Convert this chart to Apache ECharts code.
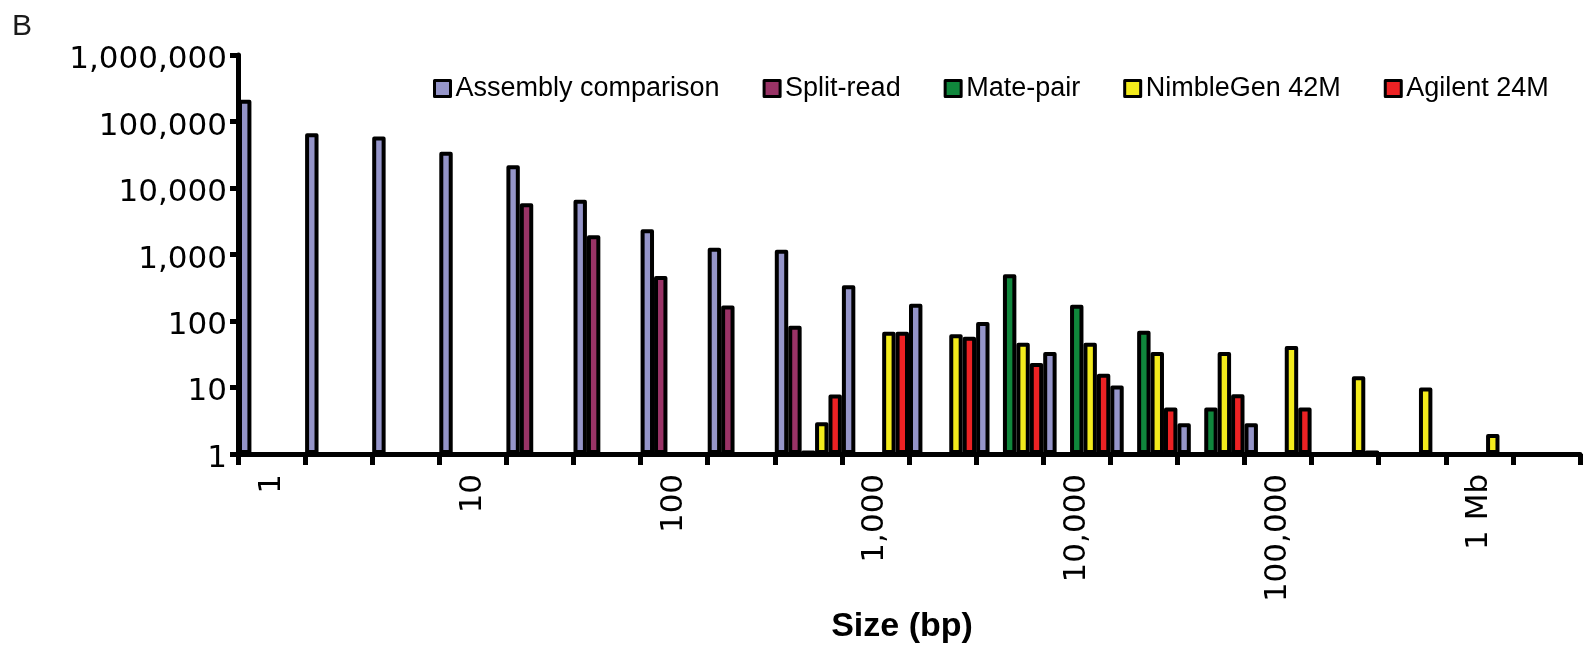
<!DOCTYPE html>
<html>
<head>
<meta charset="utf-8">
<script src="https://cdn.jsdelivr.net/npm/echarts@6/dist/echarts.min.js"></script>
<style>
html,body{margin:0;padding:0;background:#fff;}
#chart{width:1586px;height:649px;}
</style>
</head>
<body>
<div id="chart"></div>
<script>
// Size bins (bp), three per decade
const sizeBins = ['1','2','5','10','20','50','100','200','500','1,000','2,000','5,000','10,000','20,000','50,000','100,000','200,000','500,000','1 Mb','2 Mb'];
// Tick labels shown under the axis (every third bin)
const tickLabels = {0:'1',3:'10',6:'100',9:'1,000',12:'10,000',15:'100,000',18:'1 Mb'};
const yTickLabels = {1:'1',10:'10',100:'100',1000:'1,000',10000:'10,000',100000:'100,000',1000000:'1,000,000'};

const seriesNames = ['Assembly comparison','Split-read','Mate-pair','NimbleGen 42M','Agilent 24M'];
const seriesColors = ['#9595c9','#993366','#10873c','#f3eb1c','#ed2224'];

const assembly  = [212000,66700,59400,35200,21900,6650,2400,1260,1175,345,181,96,34,10.7,2.9,2.9,null,null,null,null];
const splitRead = [null,null,null,null,5900,1950,476,171,85,null,null,null,null,null,null,null,null,null,null,null];
const matePair  = [null,null,null,null,null,null,null,null,1.1,null,null,503,175,71,5,null,null,null,null,null];
const nimbleGen = [null,null,null,null,null,null,null,null,3,69,63,47,47,34,34,42,14.7,10,2,null];
const agilent   = [null,null,null,null,null,null,null,null,7.8,69,57.6,23.4,16,5,7.9,5,1.1,null,null,null];
const seriesData = [assembly, splitRead, matePair, nimbleGen, agilent];

const chart = echarts.init(document.getElementById('chart'), null, {renderer:'canvas'});
const option = {
  animation:false,
  backgroundColor:'#fff',
  title:{text:'B',left:12,top:12,padding:0,textStyle:{fontFamily:'Liberation Sans',fontSize:30,fontWeight:'normal',color:'#1a1a1a'}},
  legend:{
    data:seriesNames,
    left:433, top:75, padding:0,
    itemWidth:16, itemHeight:16, itemGap:43,
    icon:'rect',
    itemStyle:{borderColor:'#000',borderWidth:3},
    textStyle:{fontFamily:'Liberation Sans',fontSize:27,color:'#000'}
  },
  grid:{left:238,right:6,top:55,bottom:195,containLabel:false},
  xAxis:{
    type:'category',
    data:sizeBins,
    boundaryGap:true,
    axisLine:{lineStyle:{color:'#000',width:5}},
    axisTick:{show:true,interval:0,length:11,lineStyle:{color:'#000',width:5}},
    axisLabel:{
      interval:0,
      rotate:90,
      margin:20,
      fontFamily:'DejaVu Sans',
      fontSize:31,
      color:'#000',
      formatter:function(v,i){return tickLabels[i]!==undefined?tickLabels[i]:'';}
    },
    name:'Size (bp)',
    nameLocation:'middle',
    nameGap:146,
    nameTextStyle:{fontFamily:'Liberation Sans',fontSize:34,fontWeight:'bold',color:'#000',padding:[0,14,0,0]},
    splitLine:{show:false}
  },
  yAxis:{
    type:'log',
    logBase:10,
    min:1,
    max:1000000,
    axisLine:{show:true,lineStyle:{color:'#000',width:5}},
    axisTick:{show:true,length:8,lineStyle:{color:'#000',width:5}},
    axisLabel:{
      margin:11,
      fontFamily:'DejaVu Sans',
      fontSize:31,
      color:'#000',
      verticalAlign:'top',
      lineHeight:10,
      formatter:function(v){return yTickLabels[Math.round(v)]||'';}
    },
    splitLine:{show:false},
    minorTick:{show:false}
  },
  series:seriesNames.map(function(n,k){
    return {
      name:n,
      type:'bar',
      data:seriesData[k],
      barGap:'0%',
      barCategoryGap:'0%',
      itemStyle:{color:seriesColors[k],borderColor:'#000',borderWidth:4,borderJoin:'round'}
    };
  })
};
chart.setOption(option);
</script>
</body>
</html>
